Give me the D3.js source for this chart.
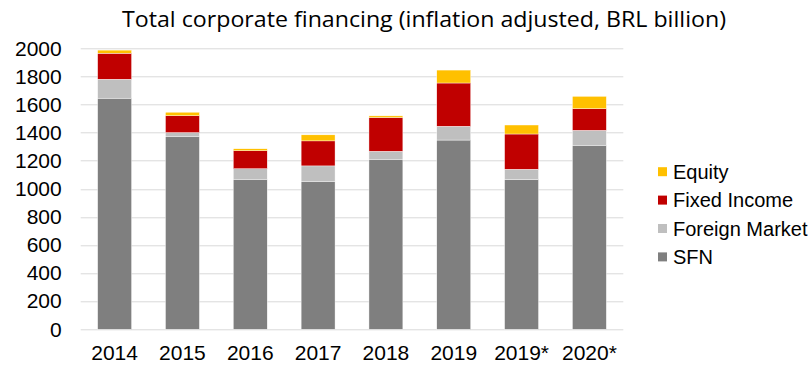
<!DOCTYPE html>
<html>
<head>
<meta charset="utf-8">
<script src="https://cdn.jsdelivr.net/npm/d3@7"></script>
<style>
  body { margin: 0; background: #fff; }
  svg { display: block; }
</style>
</head>
<body>
<script>
// data (BRL billion)
var years = ["2014", "2015", "2016", "2017", "2018", "2019", "2019*", "2020*"];
var sfn = [1645, 1370, 1068, 1053, 1210, 1347, 1067, 1310];
var foreignMarket = [135, 30, 75, 110, 57, 98, 72, 106];
var fixedIncome = [185, 120, 128, 178, 240, 308, 251, 154];
var equity = [22, 25, 14, 43, 12, 92, 64, 88];
var seriesNames = ["SFN", "Foreign Market", "Fixed Income", "Equity"];
var seriesColors = ["#7f7f7f", "#bfbfbf", "#c00000", "#ffc000"];
var yTicks = [0, 200, 400, 600, 800, 1000, 1200, 1400, 1600, 1800, 2000];

var W = 812, H = 373;
var margin = {top: 48.3, right: 188.7, bottom: 43.7, left: 80.7},
    width = W - margin.left - margin.right,
    height = H - margin.top - margin.bottom;

// build the table for d3.stack
var table = years.map(function(y, i) {
  return {year: y, "SFN": sfn[i], "Foreign Market": foreignMarket[i],
          "Fixed Income": fixedIncome[i], "Equity": equity[i]};
});
var stacked = d3.stack().keys(seriesNames)(table);

var x = d3.scaleBand().domain(years).range([0, width])
    .paddingInner(0.5).paddingOuter(0.25);
var y = d3.scaleLinear().domain([0, 2000]).range([height, 0]);
var color = d3.scaleOrdinal().domain(seriesNames).range(seriesColors);

var svg = d3.select("body").append("svg")
    .attr("width", W)
    .attr("height", H);

// title
svg.append("text")
    .attr("x", 424)
    .attr("y", 27)
    .attr("text-anchor", "middle")
    .attr("textLength", 604)
    .attr("lengthAdjust", "spacingAndGlyphs")
    .style("font-family", "'Open Sans', sans-serif")
    .style("font-size", "21px")
    .style("fill", "#000")
    .text("Total corporate financing (inflation adjusted, BRL billion)");

var g = svg.append("g")
    .attr("transform", "translate(" + margin.left + "," + margin.top + ")");

// gridlines
g.append("g").selectAll("line")
    .data(yTicks)
  .enter().append("line")
    .attr("x1", 0).attr("x2", width)
    .attr("y1", function(d) { return Math.round(y(d)) + 0.5; })
    .attr("y2", function(d) { return Math.round(y(d)) + 0.5; })
    .style("stroke", "#d9d9d9")
    .style("stroke-width", 1);

// bars
g.append("g").selectAll("g")
    .data(stacked)
  .enter().append("g")
    .attr("fill", function(d) { return color(d.key); })
  .selectAll("rect")
    .data(function(d) { return d; })
  .enter().append("rect")
    .attr("x", function(d) { return x(d.data.year); })
    .attr("y", function(d) { return y(d[1]); })
    .attr("width", x.bandwidth())
    .attr("height", function(d) { return y(d[0]) - y(d[1]); })
    .style("stroke", "#fff")
    .style("stroke-width", 0.4);

// y axis
var yAxis = g.append("g")
    .call(d3.axisLeft(y).tickValues(yTicks).tickFormat(d3.format("d"))
      .tickSize(0).tickPadding(19));
yAxis.select(".domain").remove();
yAxis.selectAll("text")
    .style("font-family", "'Liberation Sans', Arial, sans-serif")
    .style("font-size", "21px")
    .style("fill", "#000");

// x axis
var xAxis = g.append("g")
    .attr("transform", "translate(0," + height + ")")
    .call(d3.axisBottom(x).tickSize(0).tickPadding(16));
xAxis.select(".domain").remove();
xAxis.selectAll("text")
    .style("font-family", "'Liberation Sans', Arial, sans-serif")
    .style("font-size", "21px")
    .style("fill", "#000");

// legend (Equity on top)
var legend = svg.append("g")
    .attr("transform", "translate(658,171.7)");
var items = legend.selectAll("g")
    .data(seriesNames.slice().reverse())
  .enter().append("g")
    .attr("transform", function(d, i) { return "translate(0," + (i * 28.4) + ")"; });
items.append("rect")
    .attr("x", 0).attr("y", -4.5)
    .attr("width", 9).attr("height", 9)
    .attr("fill", function(d) { return color(d); });
items.append("text")
    .attr("x", 15)
    .attr("y", 0)
    .attr("dy", "0.35em")
    .style("font-family", "'Liberation Sans', Arial, sans-serif")
    .style("font-size", "20px")
    .style("fill", "#000")
    .text(function(d) { return d; });
</script>
</body>
</html>
